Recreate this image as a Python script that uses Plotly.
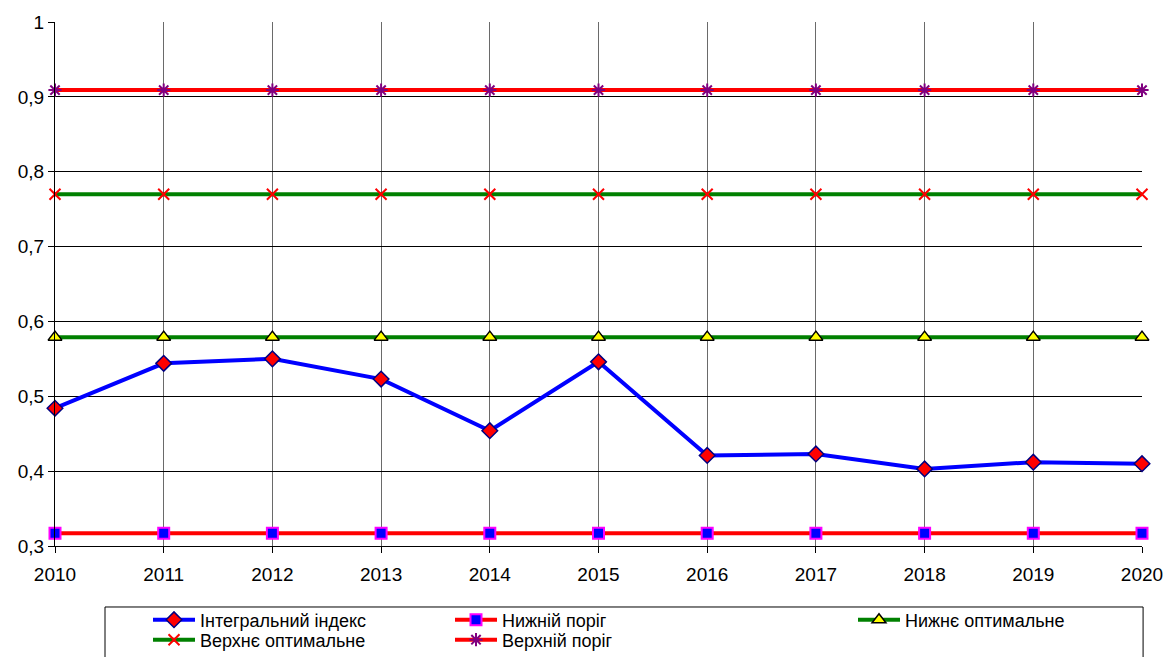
import plotly.graph_objects as go

years = [2010, 2011, 2012, 2013, 2014, 2015, 2016, 2017, 2018, 2019, 2020]
integral_index = [0.484, 0.544, 0.550, 0.523, 0.454, 0.546, 0.421, 0.423, 0.403, 0.412, 0.410]
lower_threshold = [0.317] * len(years)
lower_optimal = [0.579] * len(years)
upper_optimal = [0.770] * len(years)
upper_threshold = [0.909] * len(years)

y_ticks = [0.3, 0.4, 0.5, 0.6, 0.7, 0.8, 0.9, 1.0]
y_tick_labels = ["0,3", "0,4", "0,5", "0,6", "0,7", "0,8", "0,9", "1"]

FONT = "Liberation Sans, Arial, sans-serif"
W, H = 1167, 657

fig = go.Figure()

# each legend entry gets its own legend box so the grid of entries can be placed freely
series = [
    dict(name="Інтегральний індекс", y=integral_index, line="#0000FF",
         marker=dict(symbol="diamond", size=12, color="#FF0000",
                     line=dict(color="#000080", width=1.5)),
         legend="legend", pos=(148, 620)),
    dict(name="Нижній поріг", y=lower_threshold, line="#FF0000",
         marker=dict(symbol="square", size=11, color="#0000FF",
                     line=dict(color="#FF00FF", width=2)),
         legend="legend2", pos=(450, 620)),
    dict(name="Нижнє оптимальне", y=lower_optimal, line="#008000",
         marker=dict(symbol="triangle-up", size=12, color="#FFFF00",
                     line=dict(color="#000000", width=1.5)),
         legend="legend3", pos=(853, 620)),
    dict(name="Верхнє оптимальне", y=upper_optimal, line="#008000",
         marker=dict(symbol="x-thin", size=11, color="#FF0000",
                     line=dict(color="#FF0000", width=2)),
         legend="legend4", pos=(148, 640)),
    dict(name="Верхній поріг", y=upper_threshold, line="#FF0000",
         marker=dict(symbol="asterisk", size=11, color="#800080",
                     line=dict(color="#800080", width=2)),
         legend="legend5", pos=(450, 640)),
]

layout_legends = {}
for s in series:
    fig.add_trace(go.Scatter(
        x=years, y=s["y"], name=s["name"], mode="lines+markers",
        line=dict(color=s["line"], width=4),
        marker=s["marker"], cliponaxis=False, legend=s["legend"],
    ))
    px, py = s["pos"]
    layout_legends[s["legend"]] = dict(
        xref="container", yref="container",
        x=px / W, y=1 - py / H, xanchor="left", yanchor="middle",
        orientation="v",
        font=dict(family=FONT, size=18, color="#000000"),
        bgcolor="rgba(0,0,0,0)", borderwidth=0, itemwidth=42,
    )

fig.update_layout(
    width=W, height=H,
    margin=dict(l=55, r=25, t=22, b=111, autoexpand=False),
    paper_bgcolor="#FFFFFF", plot_bgcolor="#FFFFFF",
    showlegend=True,
    font=dict(family=FONT, size=20, color="#000000"),
    xaxis=dict(
        range=[2010, 2020], tickmode="array", tickvals=years,
        ticktext=[str(y) for y in years],
        showgrid=True, gridcolor="#6a6a6a", gridwidth=1,
        showline=True, linecolor="#000000", linewidth=1,
        ticks="outside", ticklen=6, tickcolor="#000000",
        ticklabelstandoff=5,
        zeroline=False, fixedrange=True, automargin=False,
        tickfont=dict(size=19),
    ),
    yaxis=dict(
        range=[0.3, 1.0], tickmode="array", tickvals=y_ticks,
        ticktext=y_tick_labels,
        showgrid=True, gridcolor="#000000", gridwidth=1,
        showline=True, linecolor="#000000", linewidth=1,
        ticks="outside", ticklen=6, tickcolor="#000000",
        zeroline=False, fixedrange=True, automargin=False,
        tickfont=dict(size=19),
    ),
    shapes=[
        dict(type="rect", xref="paper", yref="paper",
             x0=0.046, x1=1.001, y0=-0.24, y1=-0.1164,
             line=dict(color="#000000", width=1), fillcolor="rgba(0,0,0,0)",
             layer="below"),
    ],
    **layout_legends,
)

fig.write_html("out.html")
